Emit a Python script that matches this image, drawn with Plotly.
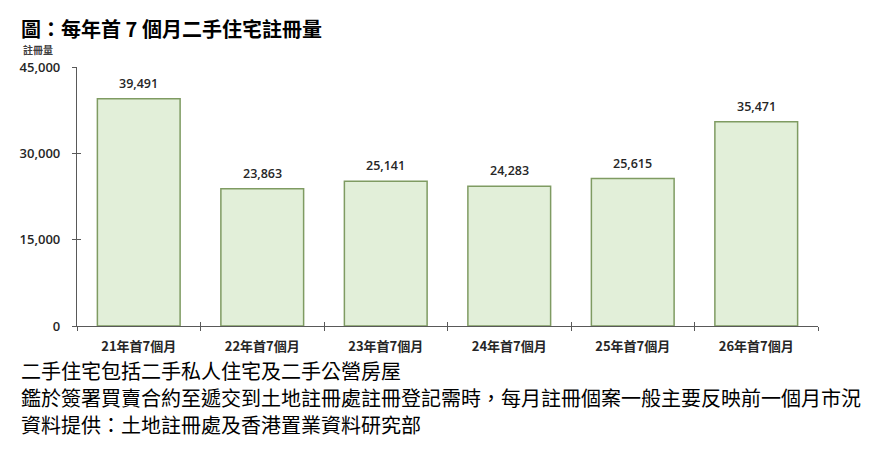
import plotly.graph_objects as go

categories = ["21年首7個月", "22年首7個月", "23年首7個月", "24年首7個月", "25年首7個月", "26年首7個月"]
registrations = [39491, 23863, 25141, 24283, 25615, 35471]
y_ticks = [0, 15000, 30000, 45000]
y_tick_labels = ["0", "15,000", "30,000", "45,000"]

title_text = "圖：每年首 7 個月二手住宅註冊量"
y_title = "註冊量"
notes = [
    "二手住宅包括二手私人住宅及二手公營房屋",
    "鑑於簽署買賣合約至遞交到土地註冊處註冊登記需時，每月註冊個案一般主要反映前一個月市況",
    "資料提供：土地註冊處及香港置業資料研究部",
]

OFF = 8  # page body margin
W, H = 877 - OFF, 455 - OFF
L, R, T, B = 69 - OFF, 818 - OFF, 67 - OFF, 326 - OFF
pw, ph = R - L, B - T

def px_x(x):
    return (x - OFF - L) / pw

def px_y(y):
    return (B - (y - OFF)) / ph

axis_color = "#595959"
cjk = "Noto Sans CJK TC"

fig = go.Figure()
fig.add_trace(go.Bar(
    x=categories, y=registrations,
    marker=dict(color="#e2efd9", line=dict(color="#7f9b62", width=1.5)),
    width=0.67,
    hoverinfo="skip",
))

for c, v in zip(categories, registrations):
    fig.add_annotation(x=c, y=v, text=f"{v:,}", showarrow=False,
                       yanchor="bottom", yshift=5,
                       font=dict(family="Open Sans", size=12.5, color="#262626", weight=600))

fig.update_layout(
    width=W, height=H,
    margin=dict(l=L, r=W - R, t=T, b=H - B),
    plot_bgcolor="white", paper_bgcolor="white",
    showlegend=False,
    xaxis=dict(
        type="category", range=[-0.5, 5.5],
        showline=True, linecolor=axis_color, linewidth=1.2,
        ticks="outside", tickson="boundaries", ticklen=4, tickcolor=axis_color, tickwidth=1.2,
        showgrid=False, zeroline=False,
        tickfont=dict(family=cjk, size=13, color="#262626", weight="bold"),
        ticklabelstandoff=8,
    ),
    yaxis=dict(
        range=[0, 45000], tickvals=y_ticks, ticktext=y_tick_labels,
        showline=True, linecolor=axis_color, linewidth=1.2,
        ticks="outside", ticklen=4, tickcolor=axis_color, tickwidth=1.2,
        showgrid=False, zeroline=False,
        tickfont=dict(family="Open Sans", size=13, color="#262626", weight=600),
        ticklabelstandoff=9,
    ),
    xaxis2=dict(
        overlaying="x", anchor="y", side="bottom", range=[-0.5, 5.5],
        tickvals=[i - 0.5 for i in range(len(categories) + 1)],
        ticks="inside", ticklen=4, tickcolor=axis_color, tickwidth=1.2,
        showticklabels=False, showgrid=False, zeroline=False, showline=False,
    ),
    yaxis2=dict(
        overlaying="y", anchor="x", side="left", range=[0, 45000],
        tickvals=y_ticks,
        ticks="inside", ticklen=4, tickcolor=axis_color, tickwidth=1.2,
        showticklabels=False, showgrid=False, zeroline=False, showline=False,
    ),
)

# dummy trace to activate overlay axes
fig.add_trace(go.Scatter(x=[None], y=[None], xaxis="x2", yaxis="y2", hoverinfo="skip"))

fig.add_annotation(xref="paper", yref="paper", x=px_x(10), y=px_y(28),
                   xanchor="left", yanchor="middle", showarrow=False,
                   text=title_text,
                   font=dict(family=cjk, size=20, color="#000000", weight="bold"))
fig.add_annotation(xref="paper", yref="paper", x=px_x(12), y=px_y(50),
                   xanchor="left", yanchor="middle", showarrow=False,
                   text=y_title,
                   font=dict(family=cjk, size=10, color="#404040", weight="bold"))
for t, yy in zip(notes, [370, 397, 424]):
    fig.add_annotation(xref="paper", yref="paper", x=px_x(10), y=px_y(yy),
                       xanchor="left", yanchor="middle", showarrow=False,
                       text=t,
                       font=dict(family=cjk, size=20, color="#000000"))

fig.write_html("out.html")
